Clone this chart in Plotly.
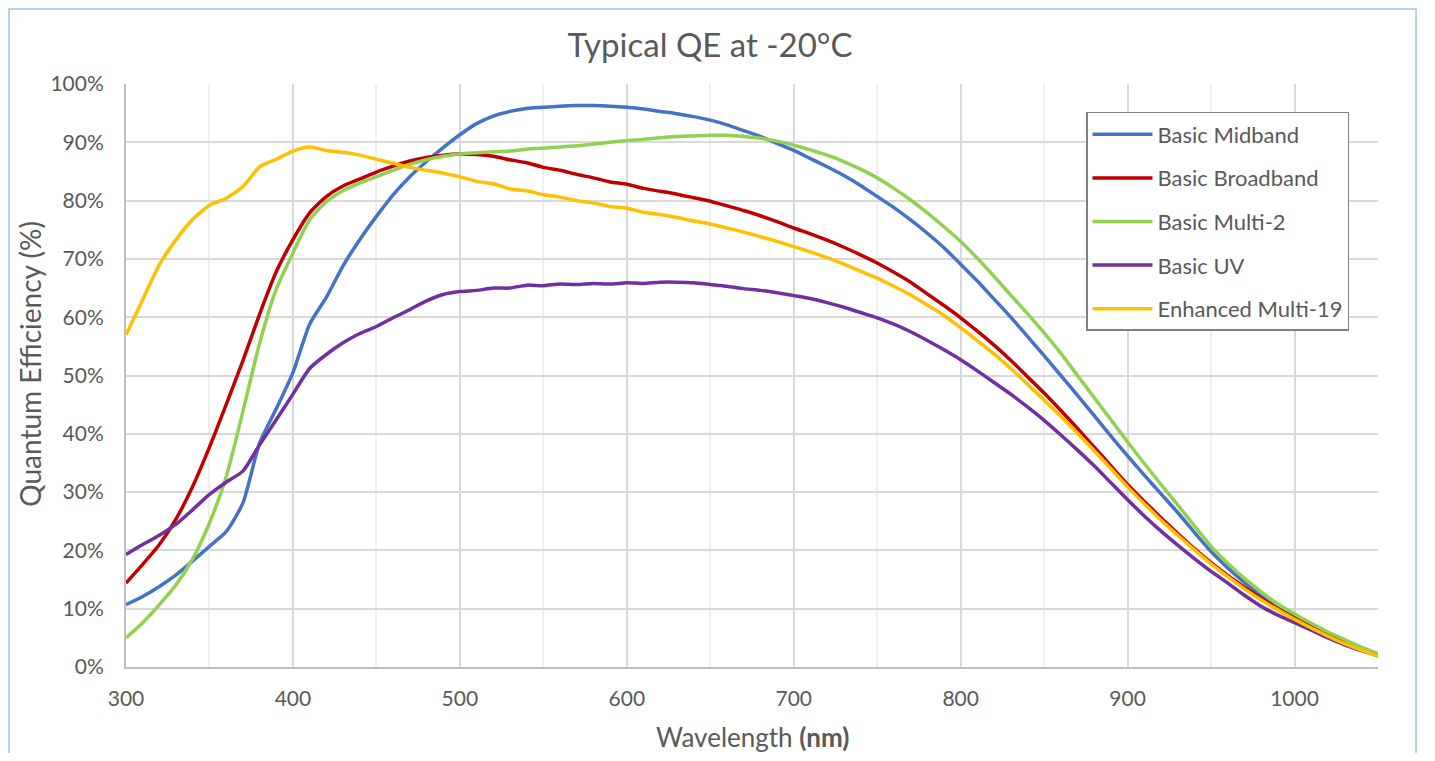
import plotly.graph_objects as go

wavelength = list(range(300, 1051, 10))

basic_midband = [10.7, 12.1, 13.8, 15.8, 18.2, 20.7, 23.2, 28.1, 38.4, 44.3,
                 50.5, 58.8, 63.4, 68.8, 73.3, 77.3, 81.0, 84.1, 86.7, 89.1,
                 91.3, 93.2, 94.5, 95.3, 95.8, 96.0, 96.2, 96.3, 96.3, 96.2,
                 96.0, 95.7, 95.3, 94.9, 94.4, 93.8, 93.0, 92.0, 91.0, 89.8,
                 88.6, 87.2, 85.8, 84.3, 82.6, 80.7, 78.8, 76.7, 74.4, 71.9,
                 69.1, 66.2, 63.1, 60.0, 56.7, 53.4, 50.0, 46.6, 43.1, 39.6,
                 36.2, 32.9, 29.7, 26.5, 23.1, 19.8, 17.0, 14.5, 12.2, 10.1,
                 8.6, 7.0, 5.6, 4.3, 3.1, 2.1]

basic_broadband = [14.4, 17.6, 21.0, 25.4, 31.0, 37.7, 45.0, 52.5, 60.5, 67.8,
                   73.3, 77.9, 80.7, 82.5, 83.7, 84.9, 85.9, 86.8, 87.4, 87.8,
                   88.0, 87.9, 87.6, 87.0, 86.5, 85.7, 85.2, 84.5, 83.9, 83.2,
                   82.8, 82.1, 81.6, 81.1, 80.5, 79.9, 79.1, 78.3, 77.4, 76.4,
                   75.3, 74.3, 73.2, 72.0, 70.7, 69.3, 67.7, 66.0, 64.0, 62.0,
                   59.9, 57.6, 55.2, 52.6, 49.8, 47.0, 44.0, 40.9, 37.7, 34.5,
                   31.3, 28.4, 25.6, 22.9, 20.3, 17.9, 15.7, 13.7, 11.8, 10.0,
                   8.4, 6.9, 5.5, 4.2, 3.0, 2.0]

basic_multi2 = [5.0, 7.6, 10.7, 14.1, 18.6, 24.7, 32.6, 43.8, 55.5, 64.8,
                71.0, 76.7, 79.8, 81.7, 83.0, 84.1, 85.2, 86.2, 87.0, 87.6,
                88.0, 88.2, 88.4, 88.5, 88.8, 89.0, 89.2, 89.4, 89.7, 90.0,
                90.3, 90.5, 90.8, 91.0, 91.1, 91.2, 91.2, 91.0, 90.7, 90.2,
                89.5, 88.7, 87.8, 86.7, 85.4, 83.9, 82.1, 80.1, 77.9, 75.5,
                73.0, 70.1, 67.0, 63.8, 60.6, 57.3, 53.8, 50.0, 46.2, 42.4,
                38.6, 34.9, 31.3, 27.8, 24.2, 20.7, 17.8, 15.2, 12.9, 10.8,
                9.1, 7.5, 6.0, 4.7, 3.4, 2.3]

basic_uv = [19.3, 21.0, 22.6, 24.5, 27.0, 29.6, 31.7, 33.6, 38.1, 42.4,
            46.8, 51.2, 53.6, 55.6, 57.2, 58.4, 59.9, 61.3, 62.8, 63.9,
            64.4, 64.6, 65.0, 65.0, 65.5, 65.4, 65.7, 65.6, 65.8, 65.7,
            65.9, 65.8, 66.0, 66.0, 65.9, 65.6, 65.3, 64.9, 64.6, 64.2,
            63.7, 63.2, 62.5, 61.7, 60.8, 59.9, 58.8, 57.5, 56.0, 54.4,
            52.7, 50.8, 48.8, 46.8, 44.6, 42.3, 39.8, 37.2, 34.5, 31.6,
            28.7, 25.9, 23.3, 20.9, 18.6, 16.4, 14.4, 12.3, 10.4, 8.9,
            7.6, 6.3, 5.0, 3.8, 2.8, 1.9]

enhanced_multi19 = [57.0, 63.0, 69.0, 73.3, 76.8, 79.2, 80.4, 82.4, 85.8, 87.1,
                    88.5, 89.2, 88.6, 88.3, 87.8, 87.1, 86.4, 85.7, 85.2, 84.7,
                    84.1, 83.3, 82.9, 82.0, 81.7, 81.0, 80.6, 80.0, 79.6, 79.0,
                    78.7, 78.0, 77.6, 77.1, 76.5, 76.0, 75.3, 74.6, 73.8, 73.0,
                    72.1, 71.2, 70.2, 69.1, 67.9, 66.7, 65.3, 63.8, 62.1, 60.3,
                    58.2, 56.0, 53.7, 51.2, 48.5, 45.8, 43.0, 40.1, 37.1, 34.0,
                    30.9, 28.0, 25.2, 22.6, 20.1, 17.7, 15.5, 13.4, 11.5, 9.8,
                    8.2, 6.7, 5.3, 4.0, 2.9, 1.9]

series_names = ["Basic Midband", "Basic Broadband", "Basic Multi-2", "Basic UV", "Enhanced Multi-19"]
series_values = [basic_midband, basic_broadband, basic_multi2, basic_uv, enhanced_multi19]
series_colors = ["#4472C4", "#C00000", "#92D050", "#7030A0", "#FFC000"]

FONT = "Lato"
TXT = "#595959"

# page body has an 8px margin; plot area sits at window px x 126..1378, y 84..667.5
OFF = 8
W, H = 1419, 745
PL, PT, PW, PH = 126, 84, 1252, 583.5


def px(x):
    return (x - PL) / PW


def py(y):
    return (PT + PH - y) / PH


fig = go.Figure()
for i, (name, vals, col) in enumerate(zip(series_names, series_values, series_colors)):
    fig.add_trace(go.Scatter(
        x=wavelength, y=[v / 100 for v in vals], name=name, mode="lines",
        line=dict(color=col, width=3.5, shape="spline", smoothing=0.6),
        legendgroup=f"g{i}", hoverinfo="x+y+name",
    ))

fig.update_layout(
    width=W, height=H,
    margin=dict(l=PL - OFF, r=W - (PL + PW - OFF), t=PT - OFF, b=H - (PT + PH - OFF), autoexpand=False),
    paper_bgcolor="white", plot_bgcolor="white",
    font=dict(family=FONT, color=TXT, size=21),
    title=dict(text="Typical QE at -20°C", x=px(710), xref="paper", xanchor="center",
               y=1 - (45 - OFF) / H, yref="container", yanchor="middle",
               font=dict(family=FONT, size=33, color=TXT)),
    showlegend=True,
    legend=dict(x=px(1086), y=py(112), xanchor="left", yanchor="top",
                bordercolor="#808080", borderwidth=1.5, bgcolor="white",
                font=dict(family=FONT, size=22, color=TXT),
                traceorder="grouped", tracegroupgap=12, itemwidth=60),
    xaxis=dict(range=[300, 1050], dtick=100, tick0=300, showgrid=True,
               gridcolor="#D9D9D9", gridwidth=1.5,
               minor=dict(dtick=50, tick0=300, showgrid=True, gridcolor="#EFEFEF", gridwidth=1.5),
               showline=True, linecolor="#BFBFBF", linewidth=2,
               ticks="", ticklabelstandoff=12, zeroline=False,
               tickfont=dict(family=FONT, size=21, color=TXT)),
    yaxis=dict(range=[0, 1], dtick=0.1, tickformat=".0%", showgrid=True,
               gridcolor="#D9D9D9", gridwidth=1.5,
               showline=True, linecolor="#BFBFBF", linewidth=2,
               ticks="", ticklabelstandoff=16, zeroline=False,
               tickfont=dict(family=FONT, size=21, color=TXT)),
    annotations=[
        dict(text="Quantum Efficiency (%)", textangle=-90, xref="paper", yref="paper",
             x=px(30), y=py(364), xanchor="center", yanchor="middle",
             showarrow=False, font=dict(family=FONT, size=28, color=TXT)),
        dict(text="Wavelength <b>(nm)</b>", xref="paper", yref="paper",
             x=px(752), y=py(738), xanchor="center", yanchor="middle",
             showarrow=False, font=dict(family=FONT, size=26, color=TXT)),
    ],
    shapes=[dict(type="rect", xref="paper", yref="paper",
                 x0=px(9), x1=px(1416), y0=py(800), y1=py(9),
                 line=dict(color="#9DC3E6", width=1.5), fillcolor="rgba(0,0,0,0)", layer="below")],
)

fig.write_html("out.html")
